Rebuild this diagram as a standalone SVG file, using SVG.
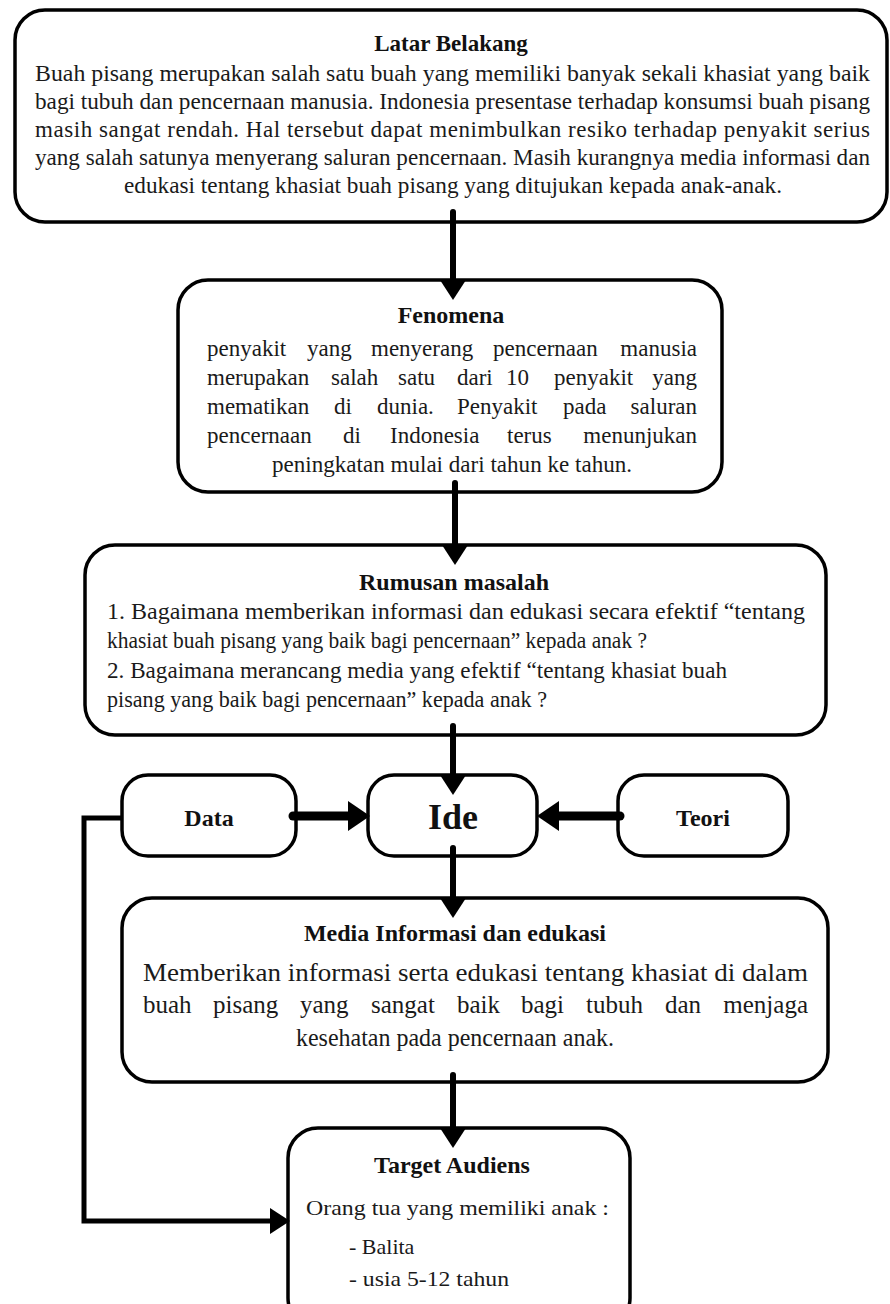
<svg xmlns="http://www.w3.org/2000/svg" width="890" height="1304" viewBox="0 0 890 1304">
<style>
.box{fill:#fff;stroke:#000;stroke-width:3.5}
.t{font-family:"Liberation Serif","Times New Roman",serif;fill:#1a1a1a;font-size:23px}
.b{font-family:"Liberation Serif","Times New Roman",serif;fill:#111;font-weight:bold;font-size:24px;text-anchor:middle}
.c{text-anchor:middle}
.e{text-anchor:end}
.con{fill:none;stroke:#000;stroke-linecap:round;stroke-linejoin:miter}
</style>
<defs>
<marker id="ah" viewBox="0 0 20 26" refX="2" refY="13" markerWidth="20" markerHeight="26" markerUnits="userSpaceOnUse" orient="auto">
<path d="M0,0 L20,13 L0,26 z" fill="#000"/>
</marker>
<marker id="ahb" viewBox="0 0 22 30" refX="2" refY="15" markerWidth="22" markerHeight="30" markerUnits="userSpaceOnUse" orient="auto">
<path d="M0,0 L22,15 L0,30 z" fill="#000"/>
</marker>
</defs>

<g id="latar">
<rect class="box" x="15" y="10" width="872" height="212" rx="30"/>
<text class="b" x="451" y="51" style="font-size:23px">Latar Belakang</text>
<text class="t" x="35" y="81" textLength="835" lengthAdjust="spacingAndGlyphs">Buah pisang merupakan salah satu buah yang memiliki banyak sekali khasiat yang baik</text>
<text class="t" x="35" y="109" textLength="835" lengthAdjust="spacingAndGlyphs">bagi tubuh dan pencernaan manusia. Indonesia presentase terhadap konsumsi buah pisang</text>
<text class="t" x="35" y="137" textLength="835" lengthAdjust="spacing">masih sangat rendah. Hal tersebut dapat menimbulkan resiko terhadap penyakit serius</text>
<text class="t" x="35" y="165" textLength="835" lengthAdjust="spacingAndGlyphs">yang salah satunya menyerang saluran pencernaan. Masih kurangnya media informasi dan</text>
<text class="t c" x="453" y="193" textLength="658" lengthAdjust="spacingAndGlyphs">edukasi tentang khasiat buah pisang yang ditujukan kepada anak-anak.</text>
</g>

<g id="fenomena">
<rect class="box" x="178" y="280" width="544" height="212" rx="30"/>
<text class="b" x="451" y="323">Fenomena</text>
<text class="t" y="356"><tspan x="207">penyakit</tspan><tspan x="307">yang</tspan><tspan x="371">menyerang</tspan><tspan x="493">pencernaan</tspan></text>
<text class="t e" x="697" y="356">manusia</text>
<text class="t" y="385"><tspan x="207">merupakan</tspan><tspan x="331">salah</tspan><tspan x="398">satu</tspan><tspan x="457">dari</tspan><tspan x="506">10</tspan><tspan x="554">penyakit</tspan></text>
<text class="t e" x="697" y="385">yang</text>
<text class="t" y="414"><tspan x="207">mematikan</tspan><tspan x="334">di</tspan><tspan x="377">dunia.</tspan><tspan x="457">Penyakit</tspan><tspan x="563">pada</tspan></text>
<text class="t e" x="697" y="414">saluran</text>
<text class="t" y="443"><tspan x="207">pencernaan</tspan><tspan x="343">di</tspan><tspan x="390">Indonesia</tspan><tspan x="507">terus</tspan></text>
<text class="t e" x="697" y="443">menunjukan</text>
<text class="t c" x="452" y="472" textLength="360" lengthAdjust="spacingAndGlyphs">peningkatan mulai dari tahun ke tahun.</text>
</g>

<g id="rumusan">
<rect class="box" x="85" y="545" width="741" height="190" rx="30"/>
<text class="b" x="454" y="590">Rumusan masalah</text>
<text class="t" x="107" y="619" textLength="698" lengthAdjust="spacingAndGlyphs">1. Bagaimana memberikan informasi dan edukasi secara efektif “tentang</text>
<text class="t" x="107" y="648" textLength="540" lengthAdjust="spacingAndGlyphs">khasiat buah pisang yang baik bagi pencernaan” kepada anak ?</text>
<text class="t" x="107" y="678" textLength="620" lengthAdjust="spacingAndGlyphs">2. Bagaimana merancang media yang efektif “tentang khasiat buah</text>
<text class="t" x="107" y="707" textLength="440" lengthAdjust="spacingAndGlyphs">pisang yang baik bagi pencernaan” kepada anak ?</text>
</g>

<g id="data">
<rect class="box" x="122" y="775" width="174" height="81" rx="26"/>
<text class="b" x="209" y="826">Data</text>
</g>

<g id="ide">
<rect class="box" x="368" y="775" width="169" height="81" rx="26"/>
<text class="b" x="453" y="829" style="font-size:36px">Ide</text>
</g>

<g id="teori">
<rect class="box" x="618" y="775" width="170" height="81" rx="26"/>
<text class="b" x="703" y="826">Teori</text>
</g>

<g id="media">
<rect class="box" x="122" y="898" width="706" height="184" rx="30"/>
<text class="b" x="455" y="941">Media Informasi dan edukasi</text>
<text class="t" x="143" y="981" style="font-size:25px" textLength="665" lengthAdjust="spacingAndGlyphs">Memberikan informasi serta edukasi tentang khasiat di dalam</text>
<text class="t" y="1013" style="font-size:25px"><tspan x="143">buah</tspan><tspan x="213">pisang</tspan><tspan x="300">yang</tspan><tspan x="371">sangat</tspan><tspan x="457">baik</tspan><tspan x="521">bagi</tspan><tspan x="586">tubuh</tspan><tspan x="665">dan</tspan></text>
<text class="t e" x="808" y="1013" style="font-size:25px">menjaga</text>
<text class="t c" x="455" y="1046" style="font-size:25px" textLength="318" lengthAdjust="spacingAndGlyphs">kesehatan pada pencernaan anak.</text>
</g>

<g id="target">
<rect class="box" x="288" y="1128" width="342" height="200" rx="30"/>
<text class="b" x="452" y="1173">Target Audiens</text>
<text class="t" x="306" y="1215" style="font-size:22px" textLength="303" lengthAdjust="spacingAndGlyphs">Orang tua yang memiliki anak :</text>
<text class="t" x="349" y="1254" style="font-size:22px">- Balita</text>
<text class="t" x="349" y="1286" style="font-size:22px" textLength="160" lengthAdjust="spacingAndGlyphs">- usia 5-12 tahun</text>
</g>

<g id="connectors">
<line class="con" x1="453" y1="212" x2="453" y2="282" stroke-width="6" marker-end="url(#ah)"/>
<line class="con" x1="455" y1="483" x2="455" y2="547" stroke-width="6" marker-end="url(#ah)"/>
<line class="con" x1="453" y1="726" x2="453" y2="777" stroke-width="6" marker-end="url(#ah)"/>
<line class="con" x1="453" y1="848" x2="453" y2="900" stroke-width="6" marker-end="url(#ah)"/>
<line class="con" x1="453" y1="1075" x2="453" y2="1130" stroke-width="6" marker-end="url(#ah)"/>
<line class="con" x1="293" y1="816" x2="350" y2="816" stroke-width="9" marker-end="url(#ahb)"/>
<line class="con" x1="620" y1="816" x2="557" y2="816" stroke-width="9" marker-end="url(#ahb)"/>
<polyline class="con" points="122,818 84,818 84,1221 272,1221" stroke-width="5" style="stroke-linecap:butt" marker-end="url(#ah)"/>
</g>
</svg>
